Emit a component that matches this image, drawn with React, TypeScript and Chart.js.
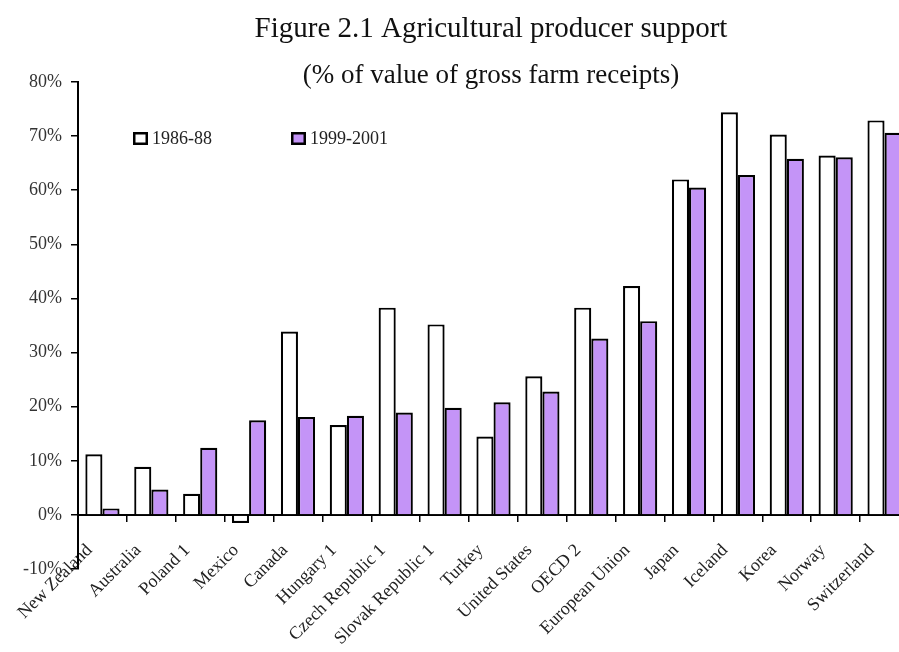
import React, { useEffect, useRef } from "react";
import { Chart, registerables } from "chart.js";

Chart.register(...registerables);

const categories = [
  "New Zealand", "Australia", "Poland 1", "Mexico", "Canada", "Hungary 1",
  "Czech Republic 1", "Slovak Republic 1", "Turkey", "United States", "OECD 2",
  "European Union", "Japan", "Iceland", "Korea", "Norway", "Switzerland",
];
const series1986 = [11.2, 8.9, 3.9, -1.5, 33.9, 16.6, 38.3, 35.2, 14.5, 25.6, 38.3, 42.3, 62.0, 74.4, 70.3, 66.4, 72.9];
const series1999 = [1.2, 4.7, 12.4, 17.5, 18.1, 18.3, 18.9, 19.8, 20.8, 22.8, 32.6, 35.8, 60.5, 62.8, 65.8, 66.1, 70.6];
const seriesNames = ["1986-88", "1999-2001"];
const titleText = "Figure 2.1 Agricultural producer support";
const subtitleText = "(% of value of gross farm receipts)";

const PURPLE = "#c494f7";
const SERIF = "'Liberation Serif', 'Times New Roman', serif";

const decorPlugin = {
  id: "decor",
  afterDraw(chart: any) {
    const ctx = chart.ctx;
    ctx.save();
    ctx.fillStyle = "#111";
    ctx.textAlign = "center";
    ctx.textBaseline = "alphabetic";
    ctx.font = `29px ${SERIF}`;
    ctx.fillText(titleText, 491, 37);
    ctx.font = `27px ${SERIF}`;
    ctx.fillText(subtitleText, 491, 83);

    // legend
    const ds = chart.data.datasets;
    const xs = [133, 291];
    ctx.font = `18px ${SERIF}`;
    ctx.textAlign = "left";
    ctx.textBaseline = "middle";
    ds.forEach((d: any, i: number) => {
      const x = xs[i];
      const y = 132;
      ctx.fillStyle = d.backgroundColor;
      ctx.fillRect(x, y, 15, 13);
      ctx.lineWidth = 2.5;
      ctx.strokeStyle = "#000";
      ctx.strokeRect(x + 1.25, y + 1.25, 12.5, 10.5);
      ctx.fillStyle = "#222";
      ctx.fillText(d.label, x + 19, y + 7);
    });
    ctx.restore();
  },
};

export default function App() {
  const ref = useRef<HTMLCanvasElement>(null);
  useEffect(() => {
    if (!ref.current) return;
    const chart = new Chart(ref.current, {
      type: "bar",
      data: {
        labels: categories,
        datasets: [
          {
            label: seriesNames[0],
            data: series1986,
            backgroundColor: "#ffffff",
            borderColor: "#000",
            borderWidth: 2.2,
            categoryPercentage: 0.7,
            barPercentage: 1.0,
          },
          {
            label: seriesNames[1],
            data: series1999,
            backgroundColor: PURPLE,
            borderColor: "#000",
            borderWidth: 2.2,
            categoryPercentage: 0.7,
            barPercentage: 1.0,
          },
        ],
      },
      options: {
        responsive: false,
        animation: false,
        devicePixelRatio: 1,
        layout: { padding: { left: 0, top: 82, right: 11, bottom: 83 } },
        plugins: {
          legend: { display: false },
          tooltip: { enabled: false },
          title: { display: false },
        },
        scales: {
          x: {
            position: { y: 0 } as any,
            grid: {
              display: true,
              drawOnChartArea: false,
              drawTicks: true,
              tickLength: 6,
              color: "#000",
              lineWidth: 1.5,
              offset: true,
            },
            border: { display: true, color: "#000", width: 2 },
            ticks: {
              autoSkip: false,
              maxRotation: 45,
              minRotation: 45,
              labelOffset: -13,
              padding: 19,
              color: "#222",
              font: { family: SERIF, size: 18 },
            },
          },
          y: {
            min: -10,
            max: 80,
            afterFit: (s: any) => {
              s.width = 78;
            },
            grid: {
              display: true,
              drawOnChartArea: false,
              drawTicks: true,
              tickLength: 7,
              color: "#000",
              lineWidth: 1.5,
            },
            border: { display: true, color: "#000", width: 2 },
            ticks: {
              stepSize: 10,
              padding: 9,
              color: "#333",
              font: { family: SERIF, size: 18 },
              callback: (v: any) => `${v}%`,
            },
          },
        },
      },
      plugins: [decorPlugin],
    });
    return () => chart.destroy();
  }, []);

  return (
    <div
      style={{
        position: "fixed",
        left: 0,
        top: 0,
        width: 899,
        height: 652,
        overflow: "hidden",
        background: "#fff",
      }}
    >
      <canvas ref={ref} width={920} height={652} style={{ display: "block" }} />
    </div>
  );
}
